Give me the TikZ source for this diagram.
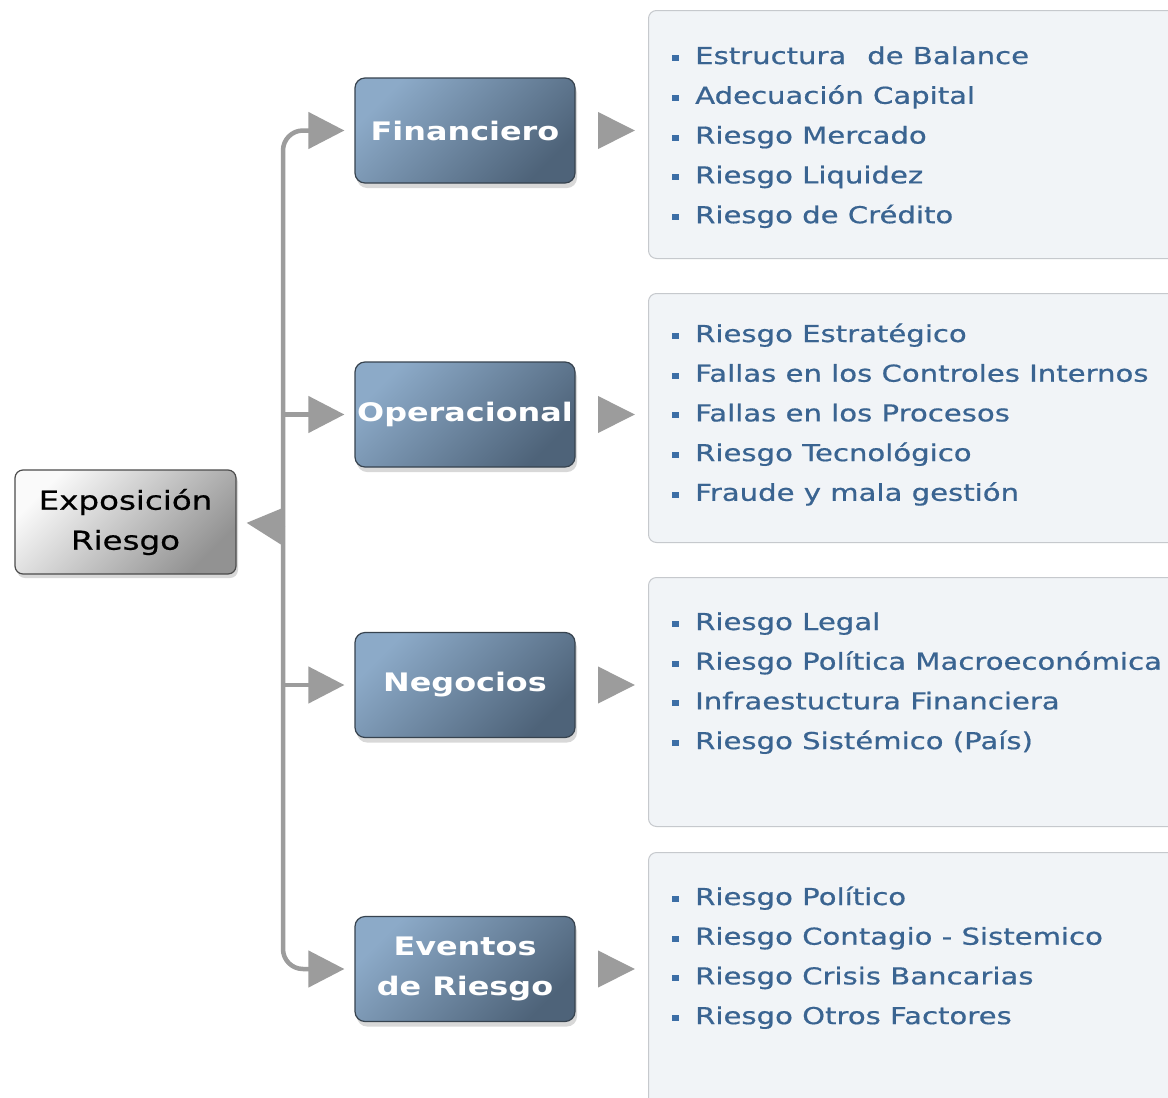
\documentclass[tikz,border=0pt]{standalone}
\usepackage{fontspec}
\setmainfont{DejaVu Sans}[FakeStretch=1.25]
\newfontfamily\heavyfont{DejaVu Sans}[FakeStretch=1.25,FakeBold=0.6]
\usetikzlibrary{arrows.meta,shadows}
\definecolor{arrowgray}{HTML}{9C9C9C}
\definecolor{listtext}{HTML}{3A6491}
\definecolor{bulletc}{HTML}{3C6EA6}
\definecolor{listfill}{HTML}{F1F4F7}
\definecolor{listborder}{HTML}{C6C9CD}
\definecolor{bluelight}{HTML}{8CAAC8}
\definecolor{bluedark}{HTML}{4E6379}
\definecolor{blueborder}{HTML}{37434F}
\definecolor{rootlight}{HTML}{FAFAFA}
\definecolor{rootdark}{HTML}{929292}
\newcommand\listbul{{\color{bulletc}\rule[3pt]{7pt}{6pt}}\hspace{16pt}}
\tikzset{
  rootbox/.style={draw=black!70, line width=1.2pt, rounded corners=8pt,
    minimum width=221pt, minimum height=104pt, inner sep=0pt,
    top color=rootlight, bottom color=rootdark, shading angle=45,
    drop shadow={shadow xshift=2pt, shadow yshift=-4pt, opacity=0.3},
    align=center, text=black, font=\heavyfont\fontsize{26}{40}\selectfont},
  catbox/.style={draw=blueborder, line width=1.2pt, rounded corners=10pt,
    minimum width=220pt, minimum height=105pt, inner sep=0pt,
    top color=bluelight, bottom color=bluedark, shading angle=45,
    drop shadow={shadow xshift=2pt, shadow yshift=-5pt, opacity=0.3},
    align=center, text=white, font=\bfseries\fontsize{25.5}{40}\selectfont},
  listbox/.style={draw=listborder, fill=listfill, line width=1pt,
    rounded corners=8pt, anchor=north west, minimum width=560pt, inner sep=0pt},
  listitem/.style={anchor=base west, inner sep=0pt, text=listtext,
    font=\heavyfont\fontsize{23.3}{28}\selectfont},
  conn/.style={draw=arrowgray, line width=4.5pt,
    -{Triangle[length=36pt,width=36pt]}, shorten >=10pt},
  tiponly/.style={draw=arrowgray, line width=4pt,
    -{Triangle[length=37pt,width=36pt]}, shorten <=23pt, shorten >=13pt},
}
\begin{document}
\begin{tikzpicture}[x=1pt,y=-1pt]
\useasboundingbox (0,0) rectangle (1168,1098);
\fill[white] (0,0) rectangle (1168,1098);
\clip (0,0) rectangle (1168,1098);

% list boxes
\node[listbox, minimum height=248pt] (finlist) at (648,10) {};
\node[listbox, minimum height=249pt] (oprlist) at (648,293) {};
\node[listbox, minimum height=249pt] (neglist) at (648,577) {};
\node[listbox, minimum height=300pt] (evelist) at (648,852) {};

% main nodes
\node[rootbox] (root) at (125.5,522) {\raisebox{-2pt}{Exposición}\\\raisebox{-2pt}{Riesgo}};
\node[catbox] (fin) at (465,130.5) {Financiero};
\node[catbox] (opr) at (465,414.5) {Operacional};
\node[catbox] (neg) at (465,685) {Negocios};
\node[catbox] (eve) at (465,969) {Eventos\\de Riesgo};

% trunk and connectors
\coordinate (hub) at (283,526);
\draw[conn, rounded corners=20pt] (hub) |- (fin.west);
\draw[conn] (hub |- opr.west) -- (opr.west);
\draw[conn] (hub |- neg.west) -- (neg.west);
\draw[conn, rounded corners=20pt] (hub) |- (eve.west);
\draw[conn] (hub) -- (root.east);

\draw[tiponly] (fin.east) -- (finlist.west |- fin.east);
\draw[tiponly] (opr.east) -- (oprlist.west |- opr.east);
\draw[tiponly] (neg.east) -- (neglist.west |- neg.east);
\draw[tiponly] (eve.east) -- (evelist.west |- eve.east);

% list items
\foreach \t [count=\i] in {Estructura\hspace{0.5em} de Balance, Adecuación Capital, Riesgo Mercado, Riesgo Liquidez, Riesgo de Crédito}
  \node[listitem] (fin\i) at (672,{64+39.8*(\i-1)}) {\listbul\t};
\foreach \t [count=\i] in {Riesgo Estratégico, Fallas en los Controles Internos, Fallas en los Procesos, Riesgo Tecnológico, Fraude y mala gestión}
  \node[listitem] (opr\i) at (672,{342+39.7*(\i-1)}) {\listbul\t};
\foreach \t [count=\i] in {Riesgo Legal, Riesgo Política Macroeconómica, Infraestuctura Financiera, Riesgo Sistémico (País)}
  \node[listitem] (neg\i) at (672,{630+39.7*(\i-1)}) {\listbul\t};
\foreach \t [count=\i] in {Riesgo Político, Riesgo Contagio - Sistemico, Riesgo Crisis Bancarias, Riesgo Otros Factores}
  \node[listitem] (eve\i) at (672,{905+39.7*(\i-1)}) {\listbul\t};
\end{tikzpicture}
\end{document}
